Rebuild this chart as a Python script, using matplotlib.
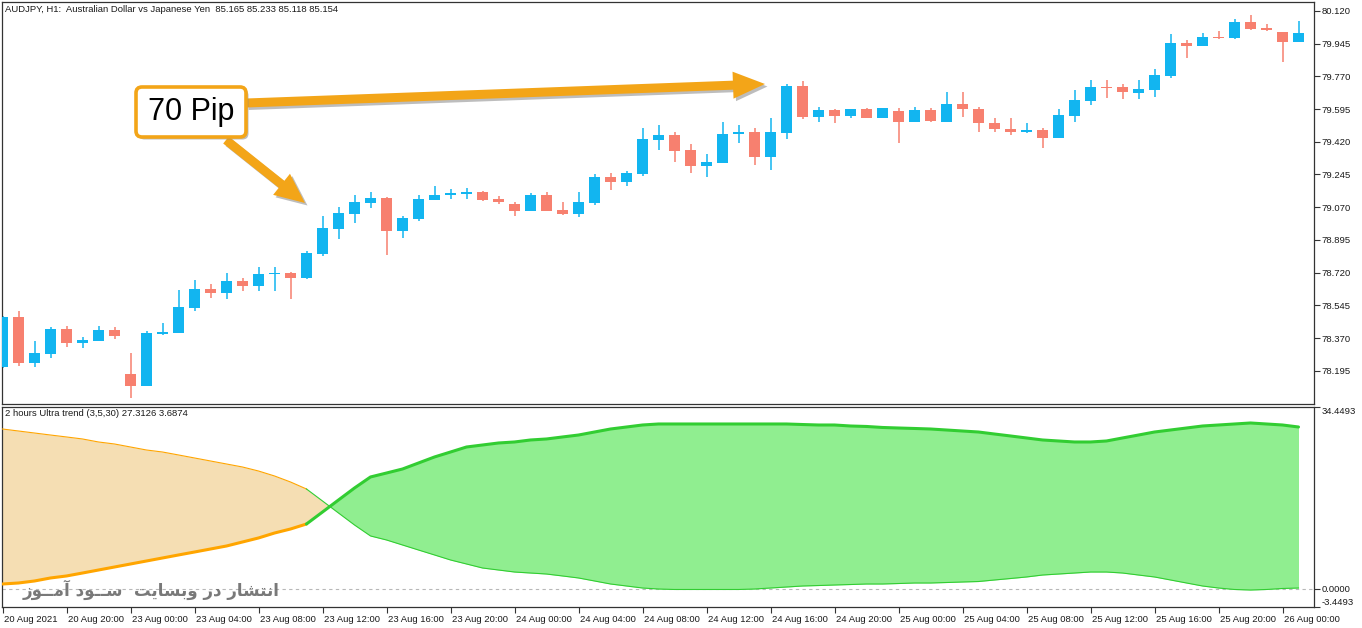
import matplotlib
matplotlib.use('Agg')
import matplotlib.pyplot as plt
import numpy as np
from matplotlib.patches import FancyBboxPatch, FancyArrow
import matplotlib.patheffects as pe
import matplotlib.transforms as mtransforms

# ---------------- data ----------------
opens = [78.215, 78.483, 78.237, 78.285, 78.419, 78.346, 78.354, 78.413, 78.178, 78.114,
         78.392, 78.397, 78.531, 78.633, 78.611, 78.675, 78.649, 78.710, 78.718, 78.692,
         78.820, 78.954, 79.034, 79.093, 79.120, 78.943, 79.007, 79.110, 79.136, 79.141,
         79.152, 79.114, 79.087, 79.050, 79.136, 79.055, 79.034, 79.093, 79.232, 79.205,
         79.248, 79.431, 79.457, 79.376, 79.291, 79.307, 79.462, 79.473, 79.339, 79.467,
         79.719, 79.553, 79.590, 79.558, 79.596, 79.548, 79.585, 79.526, 79.590, 79.526,
         79.622, 79.596, 79.521, 79.489, 79.473, 79.483, 79.441, 79.558, 79.638, 79.713,
         79.713, 79.681, 79.697, 79.772, 79.949, 79.933, 79.981, 79.976, 80.061, 80.029,
         80.008, 79.954]
highs = [78.488, 78.515, 78.354, 78.429, 78.435, 78.376, 78.435, 78.429, 78.290, 78.408,
         78.451, 78.627, 78.681, 78.659, 78.718, 78.692, 78.750, 78.750, 78.724, 78.836,
         79.023, 79.071, 79.136, 79.152, 79.125, 79.023, 79.136, 79.184, 79.168, 79.173,
         79.157, 79.130, 79.098, 79.146, 79.152, 79.098, 79.152, 79.248, 79.253, 79.264,
         79.494, 79.510, 79.473, 79.408, 79.355, 79.526, 79.510, 79.494, 79.548, 79.729,
         79.746, 79.606, 79.596, 79.596, 79.601, 79.601, 79.601, 79.606, 79.601, 79.687,
         79.687, 79.606, 79.548, 79.548, 79.521, 79.494, 79.596, 79.697, 79.751, 79.751,
         79.729, 79.751, 79.810, 79.997, 79.965, 80.002, 80.013, 80.077, 80.099, 80.051,
         80.010, 80.067]
lows = [78.210, 78.221, 78.215, 78.263, 78.322, 78.317, 78.354, 78.365, 78.049, 78.114,
        78.386, 78.397, 78.515, 78.584, 78.579, 78.622, 78.622, 78.622, 78.579, 78.686,
        78.809, 78.900, 78.986, 79.066, 78.815, 78.905, 78.996, 79.109, 79.114, 79.114,
        79.103, 79.087, 79.023, 79.050, 79.050, 79.029, 79.018, 79.082, 79.162, 79.184,
        79.237, 79.376, 79.312, 79.253, 79.232, 79.307, 79.414, 79.296, 79.269, 79.435,
        79.542, 79.526, 79.521, 79.548, 79.548, 79.548, 79.414, 79.526, 79.526, 79.526,
        79.553, 79.473, 79.473, 79.457, 79.467, 79.387, 79.441, 79.526, 79.617, 79.655,
        79.649, 79.649, 79.660, 79.762, 79.869, 79.933, 79.970, 79.970, 80.018, 80.013,
        79.847, 79.954]
closes = [78.483, 78.237, 78.290, 78.419, 78.344, 78.360, 78.413, 78.381, 78.114, 78.397,
          78.402, 78.536, 78.633, 78.611, 78.675, 78.649, 78.713, 78.720, 78.692, 78.825,
          78.959, 79.039, 79.098, 79.120, 78.943, 79.013, 79.114, 79.134, 79.146, 79.152,
          79.110, 79.100, 79.050, 79.136, 79.050, 79.034, 79.098, 79.232, 79.205, 79.253,
          79.435, 79.455, 79.371, 79.291, 79.312, 79.462, 79.473, 79.339, 79.473, 79.719,
          79.553, 79.590, 79.558, 79.596, 79.548, 79.601, 79.526, 79.590, 79.531, 79.622,
          79.596, 79.521, 79.489, 79.473, 79.483, 79.441, 79.564, 79.644, 79.713, 79.708,
          79.687, 79.703, 79.778, 79.949, 79.933, 79.981, 79.976, 80.061, 80.024, 80.018,
          79.954, 80.002]

# indicator: thick (trend) line and thin line
trend_main = [0.91, 1.10, 1.48, 2.05, 2.43, 2.99, 3.56, 4.13, 4.70, 5.27,
              5.84, 6.41, 6.97, 7.54, 8.11, 8.87, 9.63, 10.57, 11.33, 12.28,
              14.55, 16.83, 19.10, 21.19, 21.94, 22.70, 23.84, 24.98, 25.92, 26.87,
              27.25, 27.63, 27.82, 28.20, 28.39, 28.77, 29.14, 29.71, 30.28, 30.66,
              31.04, 31.23, 31.23, 31.23, 31.23, 31.23, 31.23, 31.23, 31.23, 31.23,
              31.13, 31.04, 31.04, 30.85, 30.76, 30.57, 30.47, 30.38, 30.28, 30.09,
              29.90, 29.71, 29.33, 28.96, 28.58, 28.20, 28.01, 27.82, 27.82, 28.01,
              28.58, 29.14, 29.71, 30.09, 30.47, 30.85, 31.04, 31.23, 31.42, 31.23,
              31.04, 30.66]
trend_other = [30.28, 29.90, 29.52, 29.14, 28.77, 28.39, 27.82, 27.44, 26.87, 26.30,
               25.92, 25.36, 24.79, 24.22, 23.65, 23.08, 22.32, 21.38, 20.24, 18.91,
               16.64, 14.36, 12.09, 10.01, 9.25, 8.30, 7.35, 6.41, 5.46, 4.70,
               3.94, 3.56, 3.18, 2.99, 2.80, 2.43, 2.05, 1.48, 0.91, 0.53,
               0.15, -0.04, -0.13, -0.13, -0.13, -0.13, -0.13, -0.04, 0.15, 0.34,
               0.53, 0.62, 0.72, 0.81, 0.91, 0.91, 1.00, 1.10, 1.10, 1.19,
               1.29, 1.38, 1.67, 1.95, 2.24, 2.61, 2.80, 2.99, 3.18, 3.18,
               2.99, 2.61, 2.24, 1.67, 1.10, 0.53, 0.15, -0.13, -0.23, -0.13,
               0.06, 0.15]
switch_bar = 19  # bar where the indicator turns bullish

price_ticks = [80.120, 79.945, 79.770, 79.595, 79.420, 79.245, 79.070,
               78.895, 78.720, 78.545, 78.370, 78.195]
ind_ticks = [34.4493, 0.0, -3.4493]
time_tick_bars = list(range(0, 81, 4))
time_labels = ["20 Aug 2021", "20 Aug 20:00", "23 Aug 00:00", "23 Aug 04:00",
               "23 Aug 08:00", "23 Aug 12:00", "23 Aug 16:00", "23 Aug 20:00",
               "24 Aug 00:00", "24 Aug 04:00", "24 Aug 08:00", "24 Aug 12:00",
               "24 Aug 16:00", "24 Aug 20:00", "25 Aug 00:00", "25 Aug 04:00",
               "25 Aug 08:00", "25 Aug 12:00", "25 Aug 16:00", "25 Aug 20:00",
               "26 Aug 00:00"]

header = "AUDJPY, H1:  Australian Dollar vs Japanese Yen  85.165 85.233 85.118 85.154"
ind_header = "2 hours Ultra trend (3,5,30) 27.3126 3.6874"
callout = "70 Pip"
# Persian watermark "انتشار در وبسایت  سـود آمـوز" written with Arabic presentation
# forms in visual (left-to-right) order because matplotlib does no shaping
watermark = ("\uFEAF\uFEEE\u0640\u0640\uFEE3\uFE81 "
             "\uFEA9\uFEEE\u0640\u0640\uFEB3  "
             "\uFE96\uFEF3\uFE8E\uFEB4\uFE91\uFEED "
             "\uFEAD\uFEA9 "
             "\uFEAD\uFE8E\uFEB8\uFE98\uFEE7\uFE8D")

# ---------------- style ----------------
W, H = 1362, 628
BULL = '#12B5F0'
BEAR = '#F7806F'
ORANGE_LINE = '#FFA500'
GREEN_LINE = '#32CD32'
ORANGE_FILL = '#F5DEB3'
GREEN_FILL = '#90EE90'
ANN = '#F3A518'
TXT = '#1a1a1a'
FS = 6.8
SMALL_FONT = ['Liberation Sans', 'DejaVu Sans']

plt.rcParams['font.family'] = SMALL_FONT
fig = plt.figure(figsize=(W / 100, H / 100), dpi=100)
fig.patch.set_facecolor('white')

def fx(px):
    return px / W

def fy(py):
    return 1 - py / H

left_px, right_px = 2, 1314
ax1 = fig.add_axes([fx(left_px), fy(404), fx(right_px - left_px), (404 - 2) / H])
ax2 = fig.add_axes([fx(left_px), fy(607), fx(right_px - left_px), (607 - 407) / H])

x = np.arange(len(opens))
o = np.array(opens); h = np.array(highs); l = np.array(lows); c = np.array(closes)
up = c >= o
colors = np.where(up, BULL, BEAR)
body_bottom = np.minimum(o, c)
body_h = np.maximum(np.abs(c - o), 0.004)

ax1.vlines(x, l, h, colors=colors, linewidth=1.1, zorder=2)
ax1.bar(x, body_h, bottom=body_bottom, width=0.68, color=colors, linewidth=0, zorder=3)

xlim = ((left_px - 2.5) / 16, (right_px - 2.5) / 16)
ax1.set_xlim(*xlim)
ax1.set_ylim(78.017, 80.168)
ax1.set_xticks([])
ax1.yaxis.tick_right()
ax1.set_yticks(price_ticks)
ax1.set_yticklabels([f"{v:.3f}" for v in price_ticks])
ax1.tick_params(axis='y', direction='out', length=4, width=0.8, pad=1.5,
                labelsize=FS, colors='#333333', labelcolor=TXT)

# indicator panel
mt = np.array(trend_main); ot = np.array(trend_other)
ax2.fill_between(x, mt, ot, where=mt >= ot, interpolate=True, color=GREEN_FILL, linewidth=0, zorder=1)
ax2.fill_between(x, mt, ot, where=mt <= ot, interpolate=True, color=ORANGE_FILL, linewidth=0, zorder=1)
s = switch_bar
ax2.plot(x[:s + 1], ot[:s + 1], color=ORANGE_LINE, lw=0.8, zorder=3)
ax2.plot(x[s:], ot[s:], color=GREEN_LINE, lw=0.8, zorder=3)
ax2.plot(x[:s + 1], mt[:s + 1], color=ORANGE_LINE, lw=2.2, zorder=4, solid_capstyle='round')
ax2.plot(x[s:], mt[s:], color=GREEN_LINE, lw=2.2, zorder=4, solid_capstyle='round')
ax2.axhline(0, color='#B8B8B8', lw=0.8, dashes=(3, 3), zorder=0)
ax2.set_xlim(*xlim)
ax2.set_ylim(-3.4493, 34.4493)
ax2.yaxis.tick_right()
ax2.set_yticks(ind_ticks)
ax2.set_yticklabels([f"{v:.4f}" for v in ind_ticks])
ax2.tick_params(axis='y', direction='out', length=4, width=0.8, pad=1.5,
                labelsize=FS, colors='#333333', labelcolor=TXT)
ylabs = ax2.get_yticklabels()
ylabs[0].set_va('top')
ylabs[2].set_va('bottom')
ax2.set_xticks(time_tick_bars)
ax2.set_xticklabels(time_labels)
ax2.tick_params(axis='x', direction='out', length=4, width=0.8, pad=2,
                labelsize=FS, colors='#333333', labelcolor=TXT)
offset = mtransforms.ScaledTranslation(1 / 100, 0, fig.dpi_scale_trans)
for lab in ax2.get_xticklabels():
    lab.set_ha('left')
    lab.set_transform(lab.get_transform() + offset)

for ax in (ax1, ax2):
    for sp in ax.spines.values():
        sp.set_color('#333333')
        sp.set_linewidth(0.9)

# ---------------- overlay: texts and callout ----------------
ov = fig.add_axes([0, 0, 1, 1], zorder=10)
ov.set_xlim(0, W)
ov.set_ylim(H, 0)
ov.axis('off')
ov.patch.set_alpha(0)

ov.text(5, 9, header, fontsize=FS, color=TXT, va='center', ha='left')
ov.text(5, 414, ind_header, fontsize=FS, color=TXT, va='center', ha='left')
ov.text(151, 590, watermark, fontsize=12, fontweight='bold', color='#6b6b6b',
        alpha=0.9, va='center', ha='center', family=['DejaVu Sans'])

shadow = [pe.SimplePatchShadow(offset=(1.8, -1.8), shadow_rgbFace='#888888', alpha=0.55), pe.Normal()]
a1 = FancyArrow(246, 103, 519, -19, width=9, head_width=27, head_length=32,
                length_includes_head=True, color=ANN, lw=0)
a1.set_path_effects(shadow)
ov.add_patch(a1)
a2 = FancyArrow(226, 140, 79, 63, width=9, head_width=27, head_length=30,
                length_includes_head=True, color=ANN, lw=0)
a2.set_path_effects(shadow)
ov.add_patch(a2)

box = FancyBboxPatch((139, 90), 104, 44, boxstyle='round,pad=3,rounding_size=6',
                     fc='white', ec=ANN, lw=2.6)
box.set_path_effects(shadow)
ov.add_patch(box)
ov.text(191, 112, callout, fontsize=22, family=['Liberation Sans', 'DejaVu Sans'],
        color='black', ha='center', va='center')

fig.savefig('out.png', dpi=100, facecolor='white')
